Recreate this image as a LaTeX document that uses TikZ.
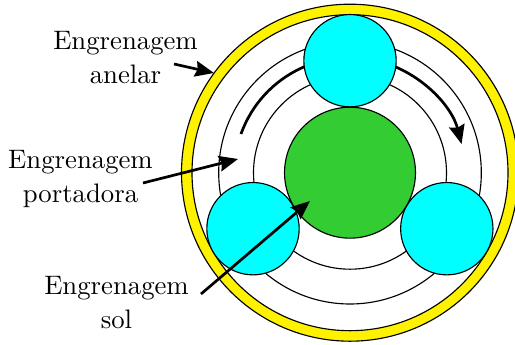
\documentclass[tikz,border=0pt]{standalone}
\usetikzlibrary{arrows.meta}
\definecolor{sungreen}{rgb}{0.2,0.8,0.2}
\definecolor{planetcyan}{rgb}{0,1,1}
\tikzset{
  thinline/.style={draw=black,line width=0.42pt},
  planetgear/.style={circle,draw=black,line width=0.42pt,fill=planetcyan,inner sep=0pt,minimum size=34.2pt},
  sungear/.style={circle,draw=black,line width=0.42pt,fill=sungreen,inner sep=0pt,minimum size=48.5pt},
  lab/.style={align=center,inner sep=0pt,anchor=base,scale=0.99},
  callout/.style={line width=1pt,-{Stealth[length=7pt,width=5.8pt,inset=0.8pt]}}
}
\begin{document}
\begin{tikzpicture}[x=1pt/2.7,y=-1pt/2.7]
\useasboundingbox (0,0) rectangle (515,345);
\coordinate (c) at (350,172.7);
\draw[thinline,fill=yellow,even odd rule] (c) circle[radius=168.5] (c) circle[radius=158];
\draw[thinline] (c) circle[radius=131.3];
\draw[thinline] (c) circle[radius=96.5];
\coordinate (arcstart) at (241,134);
\draw[callout] (arcstart) arc[start angle=-160.3,end angle=-14.5,radius=115.5];
\node[planetgear] (p1) at (350,60.7) {};
\node[planetgear] (p2) at (253,228.7) {};
\node[planetgear] (p3) at (446.8,228.7) {};
\node[sungear] (sun) at (c) {};
\node[lab] (anelar) at (125.5,50) {Engrenagem};
\node[lab] (anelar2) at (125.5,84) {anelar};
\node[lab] (port) at (80.5,169) {Engrenagem};
\node[lab] (port2) at (80.5,203) {portadora};
\node[lab] (solt) at (116.5,295) {Engrenagem};
\node[lab] (solt2) at (116.5,329) {sol};
\coordinate (a0) at (174,64);
\coordinate (a1) at (214,73);
\coordinate (b0) at (143,183);
\coordinate (b1) at (238,159);
\coordinate (s0) at (201,294);
\coordinate (s1) at (310,201);
\draw[callout] (a0) -- (a1);
\draw[callout] (b0) -- (b1);
\draw[callout] (s0) -- (s1);
\end{tikzpicture}
\end{document}
